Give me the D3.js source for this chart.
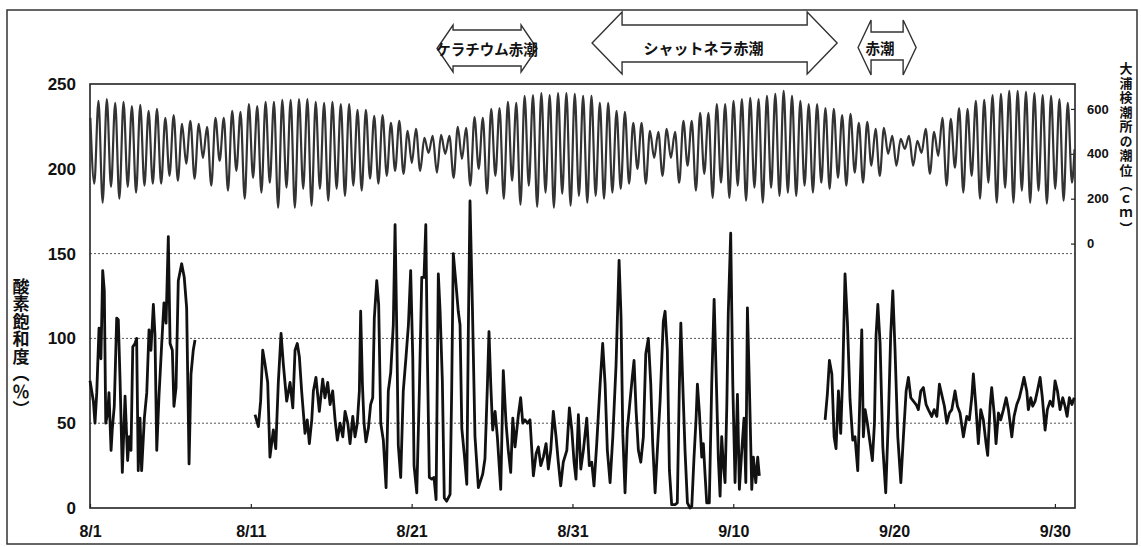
<!DOCTYPE html>
<html><head><meta charset="utf-8">
<script src="https://cdn.jsdelivr.net/npm/d3@7"></script>
<style>
html,body{margin:0;padding:0;background:#fff;}
svg{display:block;}
</style></head>
<body>
<svg id="chart" width="1141" height="547"></svg>
<script>
// ---------------- DATA ----------------
const xTickDays = [0, 10, 20, 30, 40, 50, 60];
const xTickLabels = ["8/1", "8/11", "8/21", "8/31", "9/10", "9/20", "9/30"];
const leftTicks = [0, 50, 100, 150, 200, 250];
const gridValues = [50, 100, 150];
const rightTicks = [0, 200, 400, 600];
const leftTitle = "酸素飽和度（％）";
const rightTitle = "大浦検潮所の潮位（ｃｍ）";

// red-tide periods (days after 8/1 00:00)
const bloomLabels = ["ケラチウム赤潮", "シャットネラ赤潮", "赤潮"];
const bloomStart = [21.58, 31.22, 47.76];
const bloomEnd = [27.80, 46.46, 51.37];

// oxygen saturation (%): time in days after 8/1, null = no record
const o2Days = [
  0.00,0.21,0.31,0.42,0.56,0.68,0.79,0.89,0.98,1.10,1.18,1.31,1.39,1.51,1.66,1.76,1.87,2.01,2.18,2.34,
  2.44,2.55,2.66,2.80,2.90,3.00,3.11,3.21,3.38,3.53,3.67,3.79,3.94,4.04,4.15,4.29,4.46,4.60,4.73,4.87,
  4.98,5.12,5.22,5.35,5.49,5.70,5.86,6.01,6.16,6.28,6.42,6.53,
  8.00,
  10.26,10.47,10.61,10.74,10.88,11.05,11.19,11.40,11.55,11.71,11.88,12.02,12.23,12.44,12.61,12.75,12.89,13.02,13.16,13.37,
  13.51,13.64,13.79,13.89,14.05,14.26,14.47,14.61,14.78,14.93,15.09,15.24,15.38,15.55,15.72,15.86,16.03,16.17,16.34,16.48,
  16.62,16.75,16.83,16.94,17.04,17.16,17.31,17.45,17.58,17.68,17.83,17.95,18.08,18.24,18.41,18.55,18.70,18.86,18.97,19.07,
  19.17,19.32,19.48,19.65,19.80,19.94,20.07,20.15,20.32,20.48,20.63,20.77,20.88,20.98,21.10,21.25,21.39,21.52,21.66,21.77,
  21.91,22.03,22.18,22.39,22.49,22.59,22.74,22.90,23.01,23.12,23.28,23.43,23.53,23.63,23.78,23.94,24.15,24.42,24.56,24.71,
  24.81,24.92,25.04,25.19,25.33,25.54,25.70,25.87,26.01,26.16,26.29,26.43,26.64,26.78,26.91,27.05,27.20,27.36,27.57,27.74,
  27.88,28.03,28.19,28.36,28.50,28.65,28.81,28.98,29.12,29.27,29.43,29.65,29.81,29.96,30.10,30.22,30.37,30.52,30.68,30.89,
  31.05,31.20,31.34,31.51,31.72,31.88,32.03,32.17,32.34,32.51,32.71,32.90,33.02,33.13,33.27,33.41,33.58,33.72,33.83,33.96,
  34.10,34.25,34.41,34.56,34.72,34.87,34.99,35.14,35.28,35.45,35.65,35.76,35.90,36.03,36.17,36.38,36.52,36.65,36.74,36.86,
  37.00,37.15,37.31,37.42,37.56,37.69,37.77,37.89,38.04,38.14,38.25,38.35,38.51,38.66,38.81,38.93,39.07,39.18,39.28,39.39,
  39.49,39.60,39.69,39.84,39.97,40.11,40.26,40.38,40.53,40.67,40.78,40.88,41.00,41.15,41.25,41.40,41.52,41.62,
  43.50,
  45.71,45.85,45.98,46.13,46.27,46.39,46.54,46.68,46.81,46.95,47.10,47.26,47.43,47.57,47.74,47.84,47.99,48.09,48.20,48.34,
  48.51,48.65,48.78,48.88,48.99,49.13,49.30,49.48,49.65,49.79,49.92,50.06,50.23,50.42,50.58,50.75,50.89,51.04,51.20,51.37,
  51.51,51.66,51.82,51.99,52.13,52.34,52.49,52.66,52.82,52.96,53.13,53.28,53.44,53.59,53.79,53.94,54.10,54.31,54.52,54.68,
  54.83,54.93,55.08,55.24,55.39,55.55,55.72,55.82,55.97,56.07,56.22,56.34,56.49,56.63,56.80,56.97,57.11,57.32,57.46,57.63,
  57.79,57.94,58.08,58.25,58.35,58.50,58.62,58.77,58.91,59.08,59.22,59.39,59.53,59.70,59.87,60.01,60.16,60.32,60.49,60.63,
  60.76,60.90,61.06,61.20
];
const o2Values = [
  75,63,50,68,106,88,140,128,50,56,68,34,47,60,112,111,75,21,66,28,
  42,34,95,97,100,22,53,22,53,68,105,93,120,102,34,66,97,121,109,160,
  97,93,60,71,134,144,136,118,26,79,93,99,
  null,
  55,48,63,93,85,74,30,46,35,74,103,85,63,74,59,93,97,89,69,44,
  52,38,52,69,77,57,76,65,74,61,69,52,40,50,42,57,50,38,54,42,
  50,69,116,73,50,39,47,61,65,112,134,120,50,40,12,69,80,108,167,108,
  37,18,69,89,108,140,89,25,9,69,136,136,167,89,18,17,18,5,138,116,
  75,6,4,8,69,150,134,116,108,47,31,14,108,181,118,42,12,20,29,72,
  104,73,46,57,42,11,81,50,34,21,53,36,55,65,50,52,50,52,19,32,
  36,25,30,38,23,34,57,42,27,13,27,34,59,46,27,17,55,23,34,53,
  25,27,13,38,73,97,73,34,15,42,84,146,113,44,9,46,63,77,87,57,
  34,27,42,91,100,73,38,9,34,63,110,116,93,22,2,2,3,73,109,73,
  34,3,0,1,30,53,73,57,30,38,19,3,3,73,123,81,30,7,42,25,
  15,61,115,162,73,15,67,11,34,53,15,118,73,11,30,15,30,19,
  null,
  52,67,87,79,42,35,69,44,79,138,109,64,40,42,22,54,105,42,58,50,
  38,28,50,102,120,97,36,9,54,102,128,93,42,15,42,69,77,65,63,61,
  58,69,71,61,58,54,58,54,73,67,60,50,56,58,69,60,56,42,54,52,
  65,79,61,38,58,52,38,31,60,71,56,38,56,52,58,65,58,42,54,61,
  65,71,77,69,58,65,60,63,69,77,65,46,58,63,60,75,69,58,65,60,
  54,65,61,65
];

// tide level at Oura (cm): successive low and high waters
const tideFirstLowDay = 0.267;
const tideHalfCycleDays = 0.2598;
const tideStartLevel = 560;
const tideEndLevel = 420;
const tideLows = [
  267,182,253,200,253,227,258,267,267,302,280,356,289,382,258,369,236,324,200,293,
  227,271,160,249,160,244,169,244,191,244,213,258,236,289,267,302,324,
  311,360,324,404,316,400,293,378,258,333,222,302,200,280,173,258,164,227,160,222,
  169,213,182,213,200,227,244,267,333,267,382,302,382,271,347,236,311,204,271,204,
  258,191,249,182,249,213,227,213,258,227,271,244,293,258,316,271,347,302,400,347,
  422,347,404,311,391,258,338,227,302,200,271,182,249,182,236,182,236,178,244,191,271
];
const tideHighs = [
  636,644,627,631,613,618,591,600,560,573,533,547,533,520,560,560,591,587,622,613,
  631,631,640,640,644,644,631,627,631,622,622,596,596,569,573,538,547,
  502,511,471,480,484,480,520,516,564,560,600,604,631,627,658,662,671,662,671,671,
  667,658,658,627,627,591,587,538,538,502,498,511,498,547,547,582,582,622,622,
  636,644,649,644,658,667,680,658,636,622,622,604,600,573,578,538,542,511,516,480,
  467,480,458,511,498,560,556,604,600,636,640,662,667,680,680,676,671,662,658,644,627
];

// ---------------- CHART ----------------
const svg = d3.select("#chart");
const pLeft = 90, pRight = 1075, pTop = 84, pBottom = 508;

const x = d3.scaleLinear().domain([0, 61.25]).range([pLeft, pRight]);
const y = d3.scaleLinear().domain([0, 250]).range([pBottom, pTop]);
const yR = d3.scaleLinear().domain([-1178, 711]).range([pBottom, pTop]);

const numFont = "'Liberation Sans', Arial, sans-serif";
const jpFont = "'Noto Sans CJK JP', 'Noto Sans CJK SC', sans-serif";

// outer frame
svg.append("rect").attr("x", 7).attr("y", 10).attr("width", 1130).attr("height", 534)
  .attr("fill", "none").attr("stroke", "#333").attr("stroke-width", 1.5);

// gridlines
svg.append("g").selectAll("line").data(gridValues).join("line")
  .attr("x1", pLeft).attr("x2", pRight)
  .attr("y1", d => y(d)).attr("y2", d => y(d))
  .attr("stroke", "#555").attr("stroke-width", 1).attr("stroke-dasharray", "2,2");

// plot box
svg.append("rect").attr("x", pLeft).attr("y", pTop).attr("width", pRight - pLeft).attr("height", pBottom - pTop)
  .attr("fill", "none").attr("stroke", "#222").attr("stroke-width", 1.6);

// left axis
const gL = svg.append("g").attr("transform", `translate(${pLeft},0)`)
  .call(d3.axisLeft(y).tickValues(leftTicks).tickSize(0).tickPadding(14));
gL.select(".domain").remove();
gL.selectAll("text").attr("font-family", numFont).attr("font-weight", "bold")
  .attr("font-size", 17).attr("fill", "#111");

// right axis
const gR = svg.append("g").attr("transform", `translate(${pRight},0)`)
  .call(d3.axisRight(yR).tickValues(rightTicks).tickSize(-4).tickPadding(12));
gR.select(".domain").remove();
gR.selectAll("line").attr("stroke", "#222").attr("stroke-width", 1.2);
gR.selectAll("text").attr("font-family", numFont).attr("font-weight", "bold")
  .attr("font-size", 13).attr("fill", "#111");

// bottom axis
const gB = svg.append("g").attr("transform", `translate(0,${pBottom})`)
  .call(d3.axisBottom(x).tickValues(xTickDays).tickFormat((d, i) => xTickLabels[i])
    .tickSize(-4).tickPadding(18));
gB.select(".domain").remove();
gB.selectAll("line").attr("stroke", "#222").attr("stroke-width", 1.2);
gB.selectAll("text").attr("font-family", numFont).attr("font-weight", "bold")
  .attr("font-size", 16).attr("fill", "#111");

// axis titles (vertical writing)
svg.append("text").attr("x", 21).attr("y", 278)
  .style("writing-mode", "vertical-rl").style("text-orientation", "mixed")
  .attr("font-family", jpFont).attr("font-weight", "bold").attr("font-size", 17)
  .attr("letter-spacing", 0.5).attr("fill", "#111").text(leftTitle);
svg.append("text").attr("x", 1126).attr("y", 62)
  .style("writing-mode", "vertical-rl").style("text-orientation", "mixed")
  .attr("font-family", jpFont).attr("font-weight", "bold").attr("font-size", 13)
  .attr("letter-spacing", 1.5).attr("fill", "#111").text(rightTitle);

// tide series
const tidePts = [{t: 0.02, v: tideStartLevel}];
tideLows.forEach((lv, i) => {
  tidePts.push({t: tideFirstLowDay + 2 * i * tideHalfCycleDays, v: lv});
  if (i < tideHighs.length) tidePts.push({t: tideFirstLowDay + (2 * i + 1) * tideHalfCycleDays, v: tideHighs[i]});
});
tidePts.push({t: 61.22, v: tideEndLevel});
svg.append("path").datum(tidePts)
  .attr("fill", "none").attr("stroke", "#333").attr("stroke-width", 2.2)
  .attr("d", d3.line().x(d => x(d.t)).y(d => yR(d.v)).curve(d3.curveMonotoneX));

// oxygen series
const o2 = o2Days.map((t, i) => ({t, v: o2Values[i]}));
svg.append("path").datum(o2)
  .attr("fill", "none").attr("stroke", "#111").attr("stroke-width", 2.8)
  .attr("stroke-linejoin", "round")
  .attr("d", d3.line().defined(d => d.v !== null).x(d => x(d.t)).y(d => y(d.v)));

// red tide arrows
const arrowGeom = [
  {head: 16, hTop: 25, hBot: 72, sTop: 30, sBot: 66, ty: 48, fs: 14.5, dx: 0},
  {head: 30, hTop: 12, hBot: 74, sTop: 25, sBot: 62, ty: 47, fs: 15, dx: -11},
  {head: 13, hTop: 20, hBot: 75, sTop: 32, sBot: 60, ty: 47, fs: 14.5, dx: -7}
];
bloomLabels.forEach((lab, i) => {
  const g = arrowGeom[i];
  const x0 = x(bloomStart[i]), x1 = x(bloomEnd[i]);
  const mid = (g.hTop + g.hBot) / 2;
  const pts = [
    [x0, mid], [x0 + g.head, g.hTop], [x0 + g.head, g.sTop], [x1 - g.head, g.sTop], [x1 - g.head, g.hTop],
    [x1, mid], [x1 - g.head, g.hBot], [x1 - g.head, g.sBot], [x0 + g.head, g.sBot], [x0 + g.head, g.hBot]
  ];
  svg.append("polygon").attr("points", pts.map(p => p.join(",")).join(" "))
    .attr("fill", "#fff").attr("stroke", "#333").attr("stroke-width", 1.4).attr("stroke-linejoin", "miter");
  svg.append("text").attr("x", (x0 + x1) / 2 + g.dx).attr("y", g.ty)
    .attr("text-anchor", "middle").attr("dominant-baseline", "central")
    .attr("font-family", jpFont).attr("font-weight", "bold").attr("font-size", g.fs)
    .attr("fill", "#111").text(lab);
});
</script>
</body></html>
